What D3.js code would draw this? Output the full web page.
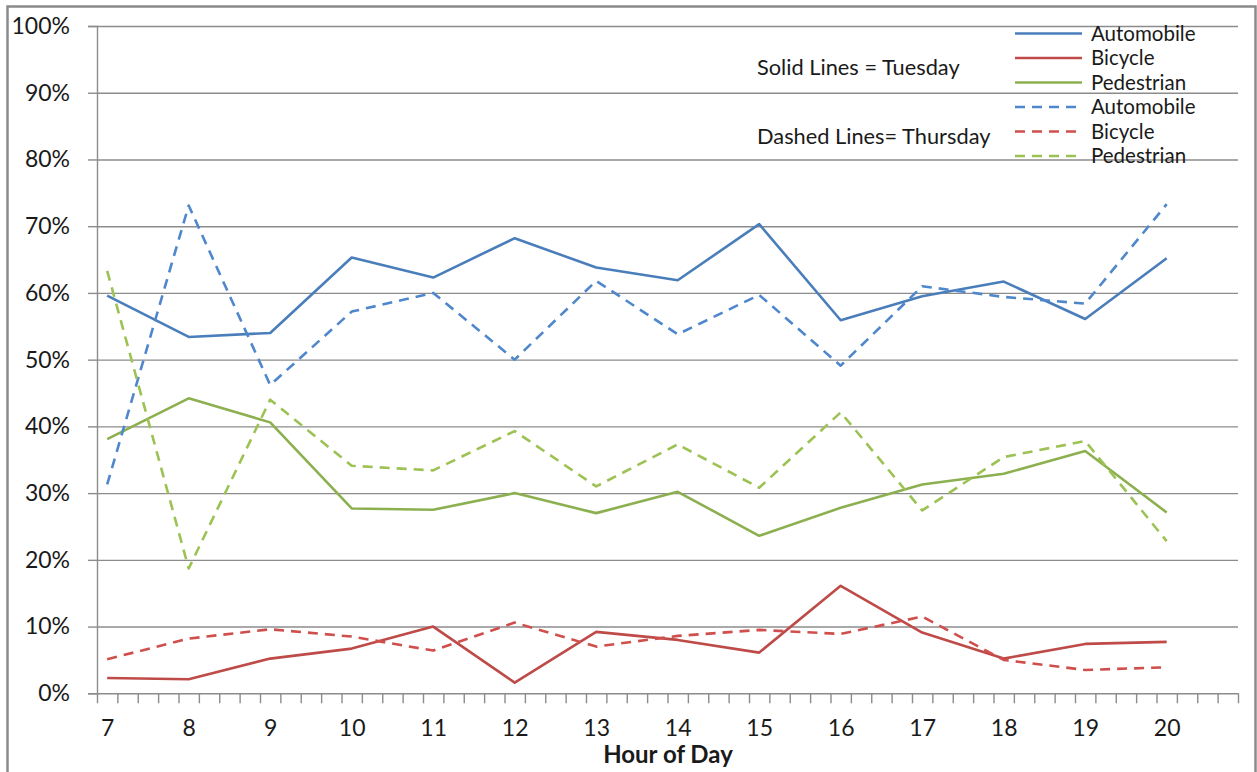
<!DOCTYPE html>
<html>
<head>
<meta charset="utf-8">
<script src="https://cdn.jsdelivr.net/npm/d3@7"></script>
<style>
  html, body { margin: 0; padding: 0; background: #fff; }
  svg { display: block; }
  text { font-family: Lato, "Open Sans", sans-serif; fill: #1a1a1a; }
</style>
</head>
<body>
<svg id="chart" width="1257" height="772"></svg>
<script>
// Hour of day on the x axis
const hours = [7, 8, 9, 10, 11, 12, 13, 14, 15, 16, 17, 18, 19, 20];

// Share of traffic by mode (%), Tuesday counts
const autoTuesday = [59.6, 53.4, 54.0, 65.3, 62.3, 68.2, 63.8, 61.9, 70.3, 55.9, 59.5, 61.7, 56.1, 65.2];
const bikeTuesday = [2.3, 2.1, 5.2, 6.7, 10.0, 1.6, 9.2, 8.0, 6.1, 16.1, 9.1, 5.2, 7.4, 7.7];
const pedTuesday  = [38.1, 44.2, 40.6, 27.7, 27.5, 30.0, 27.0, 30.2, 23.6, 27.8, 31.3, 32.9, 36.3, 27.1];

// Share of traffic by mode (%), Thursday counts
const autoThursday = [31.3, 73.1, 46.2, 57.2, 60.0, 50.0, 61.8, 53.8, 59.7, 49.1, 61.0, 59.4, 58.4, 73.3];
const bikeThursday = [5.1, 8.2, 9.6, 8.5, 6.4, 10.6, 7.0, 8.6, 9.5, 8.9, 11.5, 5.0, 3.5, 3.9];
const pedThursday  = [63.3, 18.7, 44.0, 34.1, 33.4, 39.3, 31.0, 37.3, 30.8, 42.1, 27.4, 35.4, 37.8, 22.8];

const yTicks = [0, 10, 20, 30, 40, 50, 60, 70, 80, 90, 100];

const series = [
  { name: "Automobile", values: autoTuesday,  color: "#4A7EBB", dashed: false },
  { name: "Bicycle",    values: bikeTuesday,  color: "#BE4B48", dashed: false },
  { name: "Pedestrian", values: pedTuesday,   color: "#8CB050", dashed: false },
  { name: "Automobile", values: autoThursday, color: "#4F87CC", dashed: true },
  { name: "Bicycle",    values: bikeThursday, color: "#CF4F4C", dashed: true },
  { name: "Pedestrian", values: pedThursday,  color: "#9DC254", dashed: true }
];

const svg = d3.select("#chart");

// Plot area
const plotLeft = 97, plotRight = 1238, plotTop = 26, plotBottom = 693.3;

// Each hour is split into four quarter-hour slots; points sit in the first slot
const x = d3.scaleLinear().domain([6.875, 20.875]).range([plotLeft, plotRight]);
const y = d3.scaleLinear().domain([0, 100]).range([plotBottom, plotTop]);

// Outer frame
svg.append("rect")
  .attr("x", 7.5).attr("y", 6.5)
  .attr("width", 1248).attr("height", 820)
  .attr("fill", "none")
  .attr("stroke", "#8a8a8a")
  .attr("stroke-width", 2.5);

// Horizontal gridlines
svg.append("g")
  .attr("transform", `translate(${plotLeft},0)`)
  .call(d3.axisLeft(y).tickValues(yTicks.filter(d => d > 0)).tickSize(-(plotRight - plotLeft)).tickFormat(""))
  .call(g => g.select(".domain").remove())
  .call(g => g.selectAll("line").attr("stroke", "#8c8c8c").attr("stroke-width", 1.4));

// Y axis with percent labels
svg.append("g")
  .attr("transform", `translate(${plotLeft},0)`)
  .call(d3.axisLeft(y).tickValues(yTicks).tickSize(9).tickPadding(18).tickFormat(d => d + "%"))
  .call(g => g.select(".domain").attr("stroke", "#8c8c8c").attr("stroke-width", 1.4))
  .call(g => g.selectAll("line").attr("stroke", "#8c8c8c").attr("stroke-width", 1.4))
  .call(g => g.selectAll("text").attr("font-size", 23).attr("font-family", "Lato, sans-serif").attr("fill", "#1a1a1a"));

// X axis: quarter-hour tick marks
const quarterTicks = d3.range(0, 57).map(k => 6.875 + k * 0.25);
svg.append("g")
  .attr("transform", `translate(0,${plotBottom})`)
  .call(d3.axisBottom(x).tickValues(quarterTicks).tickSize(10).tickSizeOuter(0).tickFormat(""))
  .call(g => g.select(".domain").attr("stroke", "#8c8c8c").attr("stroke-width", 1.4))
  .call(g => g.selectAll("line").attr("stroke", "#8c8c8c").attr("stroke-width", 1.4));

// X axis: hour labels
svg.append("g")
  .attr("transform", `translate(0,${plotBottom})`)
  .call(d3.axisBottom(x).tickValues(hours).tickSize(0).tickPadding(26).tickFormat(d3.format("d")))
  .call(g => g.select(".domain").remove())
  .call(g => g.selectAll("text").attr("font-size", 23).attr("font-family", "Lato, sans-serif").attr("fill", "#1a1a1a"));

// Axis title
svg.append("text")
  .attr("x", 668).attr("y", 763)
  .attr("text-anchor", "middle")
  .attr("font-size", 24)
  .attr("font-weight", "bold")
  .text("Hour of Day");

// Series lines
const line = d3.line()
  .x((d, i) => x(hours[i]))
  .y(d => y(d));

svg.append("g").selectAll("path")
  .data(series)
  .join("path")
  .attr("d", d => line(d.values))
  .attr("fill", "none")
  .attr("stroke", d => d.color)
  .attr("stroke-width", 2.6)
  .attr("stroke-linejoin", "round")
  .attr("stroke-dasharray", d => d.dashed ? "10,7" : null);

// Annotations
svg.append("text").attr("x", 757).attr("y", 75).attr("font-size", 21.8).text("Solid Lines = Tuesday");
svg.append("text").attr("x", 757).attr("y", 144).attr("font-size", 21.8).text("Dashed Lines= Thursday");

// Legend
const legend = svg.append("g")
  .selectAll("g")
  .data(series)
  .join("g")
  .attr("transform", (d, i) => `translate(1015,${33.5 + i * 24.5})`);

legend.append("line")
  .attr("x1", 0).attr("x2", 67)
  .attr("stroke", d => d.color)
  .attr("stroke-width", 2.6)
  .attr("stroke-dasharray", d => d.dashed ? "10,7" : null);

legend.append("text")
  .attr("x", 76)
  .attr("dy", "0.35em")
  .attr("font-size", 20.5)
  .text(d => d.name);
</script>
</body>
</html>
